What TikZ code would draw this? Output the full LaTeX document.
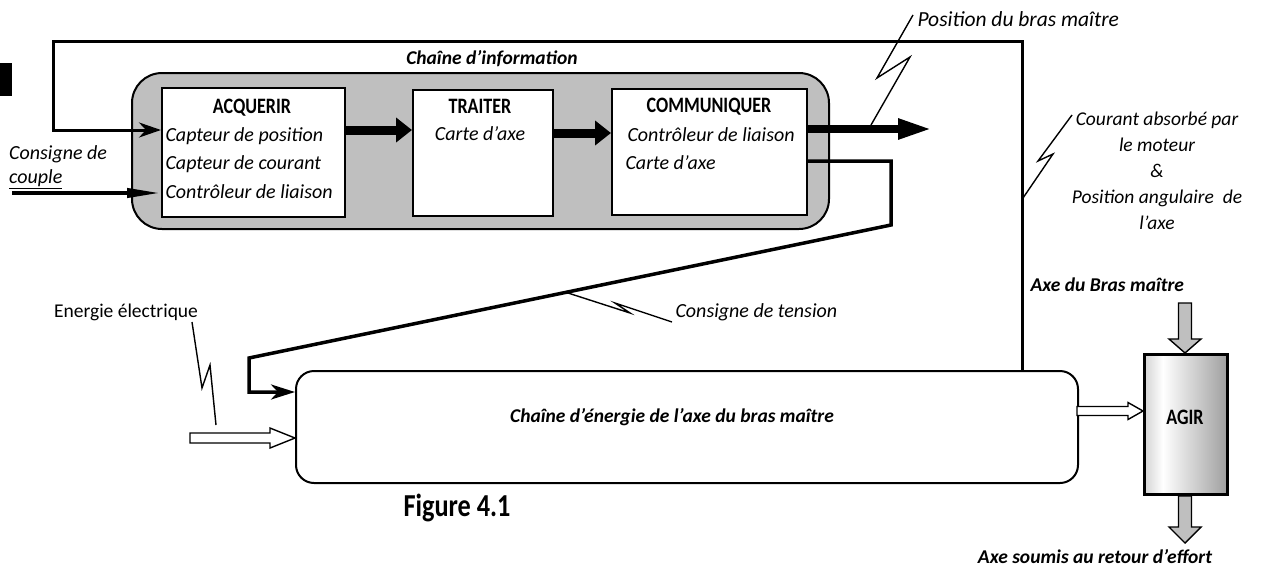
\documentclass[tikz,border=0pt]{standalone}
\usepackage{fontspec}
\setmainfont{Carlito}
\newfontfamily\condfont[FakeStretch=0.82]{Carlito}
\usetikzlibrary{arrows.meta,calc}
\pgfdeclarehorizontalshading{agirshade}{100bp}{color(0bp)=(black!55); color(36bp)=(white); color(100bp)=(black!62)}
\newcommand{\harrowshape}[6]{%
  \draw[line width=1.4pt, fill=#6, line join=miter] let \p1=(#1), \p2=(#2) in
   (\x1,\y1+#3) -- (\x2-#5,\y1+#3) -- (\x2-#5,\y1+#4) -- (\x2,\y1) -- (\x2-#5,\y1-#4)
   -- (\x2-#5,\y1-#3) -- (\x1,\y1-#3) -- cycle;}
\newcommand{\varrowshape}[6]{%
  \draw[line width=1.4pt, fill=#6, line join=miter] let \p1=(#1), \p2=(#2) in
   (\x1+#3,\y1) -- (\x1+#3,\y2+#5) -- (\x1+#4,\y2+#5) -- (\x1,\y2) -- (\x1-#4,\y2+#5)
   -- (\x1-#3,\y2+#5) -- (\x1-#3,\y1) -- cycle;}
\begin{document}
\begin{tikzpicture}[x=1pt,y=-1pt,
  whitebox/.style={draw, line width=2pt, fill=white, minimum width=#1, anchor=north west, inner sep=0pt},
  title/.style={font=\condfont\bfseries\fontsize{22}{24}\selectfont},
  it/.style={font=\itshape\fontsize{20}{24}\selectfont},
  bit/.style={font=\bfseries\itshape\fontsize{19.5}{22}\selectfont},
  thickline/.style={line width=3pt},
  lightning/.style={line width=1.4pt, line join=miter},
  blkarrow/.style={line width=9pt, -{Triangle[length=16pt,width=24pt]}},
]
\useasboundingbox (0,0) rectangle (1261,568);

% black tab
\fill (0,63) rectangle (12,96);

% information chain
\node[draw, line width=2pt, fill=black!25, rounded corners=30pt, minimum width=697, minimum height=156, anchor=north west] (info) at (131,72) {};
\node[bit, anchor=south] (infotitle) at (492,70) {Chaîne d’information};

\node[whitebox=183, minimum height=129] (acq) at (161,87) {};
\node[whitebox=140, minimum height=126] (trait) at (412,89) {};
\node[whitebox=195, minimum height=126] (comm) at (611,88) {};

\node[title] (acqt) at (252,108) {ACQUERIR};
\node[it, anchor=west] (acq1) at (162,136) {Capteur de position};
\node[it, anchor=west] (acq2) at (162,164) {Capteur de courant};
\node[it, anchor=west] (acq3) at (162,192) {Contrôleur de liaison};

\node[title] (traitt) at (480,106) {TRAITER};
\node[it] (trait1) at (480,134) {Carte d’axe};

\node[title] (commt) at (709,107) {COMMUNIQUER};
\node[it, anchor=west] (comm1) at (624,135) {Contrôleur de liaison};
\node[it, anchor=west] (comm2) at (622,163) {Carte d’axe};

% block arrows between functions
\draw[blkarrow] (acq.east |- 0,130) -- (trait.west |- 0,130);
\draw[blkarrow] (trait.east |- 0,133) -- (comm.west |- 0,133);
\coordinate (outend) at (932,129);
\draw[line width=8pt, -{Triangle[length=34pt,width=19pt]}] (comm.east |- outend) -- (outend);

% energy chain
\node[draw, line width=2pt, fill=white, rounded corners=18pt, minimum width=782, minimum height=112, anchor=north west] (energy) at (295,370) {};
\node[bit] (energyt) at (672,417) {Chaîne d’énergie de l’axe du bras maître};

% AGIR
\node[draw, line width=3pt, shading=agirshade, minimum width=83, minimum height=140, anchor=north west, inner sep=0pt] (agir) at (1143,353) {};
\node[title] (agirt) at (1185,417) {AGIR};

% feedback loop
\coordinate (fbtop) at (1022,41);
\coordinate (fbleft) at (53,41);
\coordinate (fbdown) at (53,130);
\draw[thickline, line join=miter, -{Stealth[length=22pt,width=15pt,inset=7pt]}]
  (energy.north -| fbtop) -- (fbtop) -- (fbleft) -- (fbdown) -- (acq.west |- fbdown);

% consigne de couple
\coordinate (cc) at (12,193);
\draw[line width=4pt, -{Triangle[length=34pt,width=9pt]}] (cc) -- (acq.west |- cc);
\node[it, anchor=south west, align=left, inner sep=0pt] (cctext) at (9,189) {Consigne de\\\underline{couple}};

% consigne de tension path
\coordinate (t1) at (891,161);
\coordinate (t2) at (891,225);
\coordinate (t3) at (249,358);
\coordinate (t4) at (249,392);
\draw[line width=3.5pt, line join=miter, -{Stealth[length=24pt,width=15pt,inset=7pt]}]
  (comm.east |- t1) -- (t1) -- (t2) -- (t3) -- (t4) -- (energy.west |- t4);

% hollow arrows
\coordinate (ee) at (190,438);
\harrowshape{ee}{energy.west |- ee}{5pt}{10pt}{25pt}{white}
\coordinate (ea) at (1077,411);
\harrowshape{ea}{agir.west |- ea}{4.5pt}{8.5pt}{15pt}{white}

% gray vertical arrows
\coordinate (ga) at (1185,303);
\varrowshape{ga}{agir.north -| ga}{6.5pt}{16pt}{14pt}{black!25}
\coordinate (gb) at (1185,543);
\varrowshape{agir.south -| gb}{gb}{6.5pt}{16pt}{16pt}{black!25}

% lightning labels
\draw[lightning] (871,125) -- (910,57) -- (877,78) -- (913,15);
\node[it, anchor=west, font=\itshape\fontsize{21.5}{24}\selectfont] (posb) at (914,19) {Position du bras maître};

\draw[lightning] (1023,198) -- (1053,154) -- (1038,161) -- (1072,115);
\node[it, align=center, font=\itshape\fontsize{19.5}{26}\selectfont] (cour) at (1157,171) {Courant absorbé par\\le moteur\\\&\\Position angulaire\ \ de\\l’axe};

\draw[lightning] (568,293) -- (630,313) -- (615,303) -- (672,322);
\node[it, anchor=west] (ctens) at (672,312) {Consigne de tension};

\draw[lightning] (192,322) -- (202,388) -- (210,365) -- (216,425);
\node[font=\fontsize{19.5}{22}\selectfont] (elec) at (126,312) {Energie électrique};

\node[bit, anchor=west] (axebras) at (1027,285) {Axe du Bras maître};
\node[bit] (axesoum) at (1095,557) {Axe soumis au retour d’effort};

\node[font=\condfont\bfseries\fontsize{32}{34}\selectfont] (fig) at (457,508) {Figure 4.1};
\end{tikzpicture}
\end{document}
